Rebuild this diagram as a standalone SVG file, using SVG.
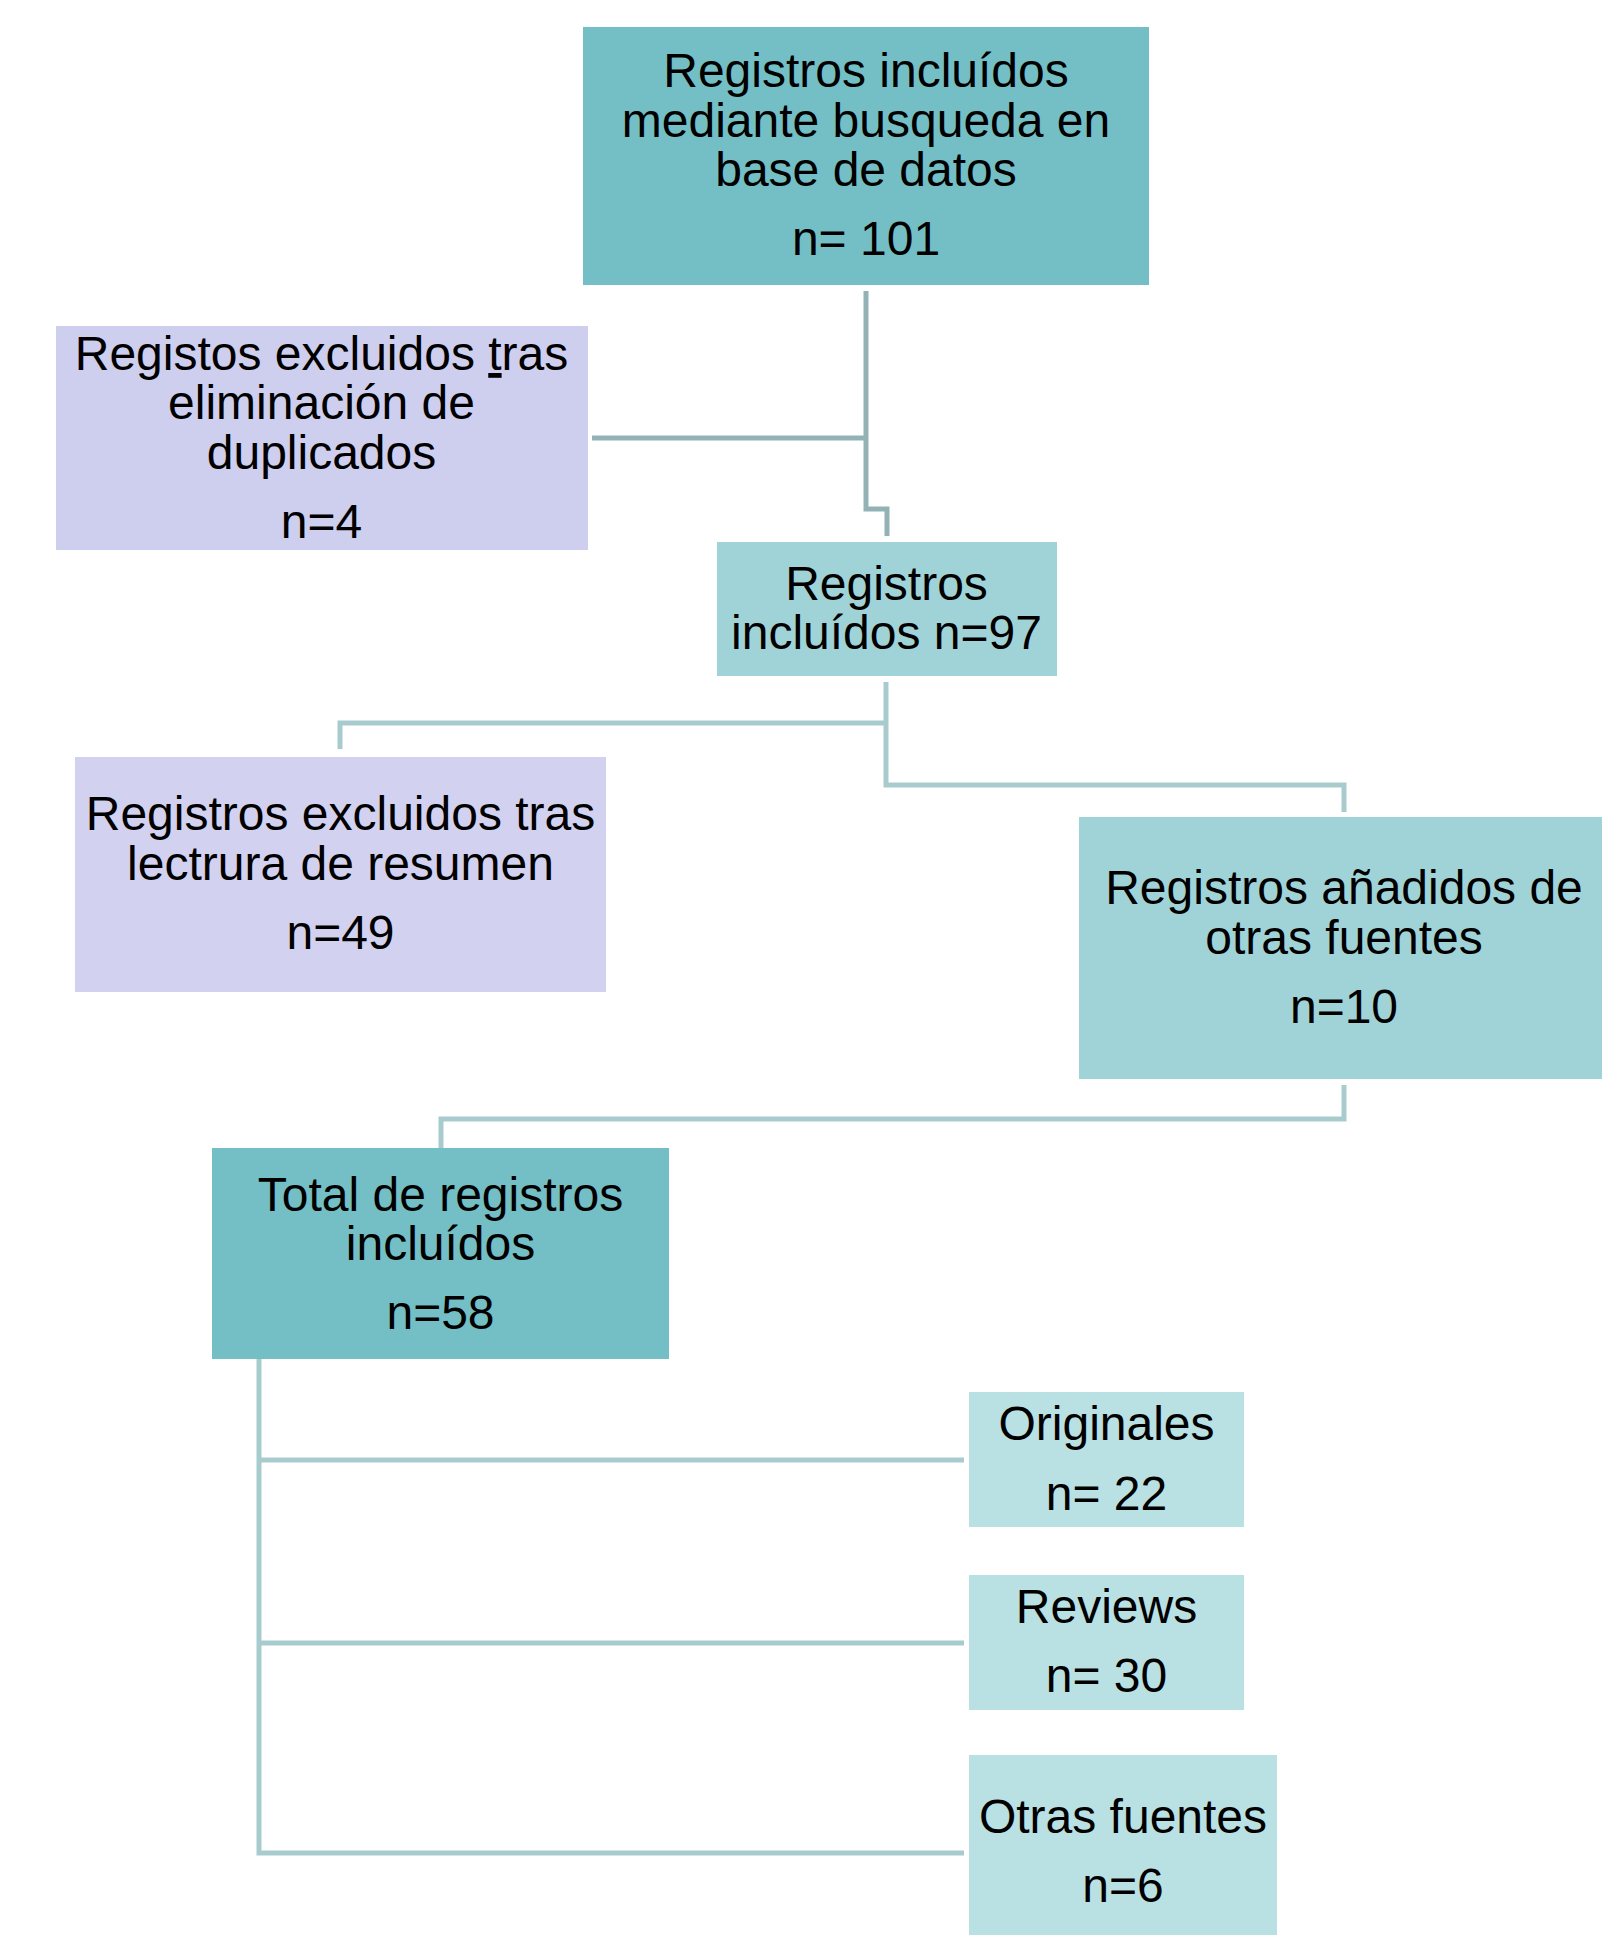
<svg xmlns="http://www.w3.org/2000/svg" width="1602" height="1935" viewBox="0 0 1602 1935">
<style>
text{font-family:"Liberation Sans",Arial,sans-serif;font-size:48px;fill:#000;text-anchor:middle}
.c1{fill:#73BFC5}
.c2{fill:#A0D3D7}
.c3{fill:#B9E0E3}
.l1{fill:#CECEEE}
.l2{fill:#D2D2F0}
.k1{fill:none;stroke:#93B2B5;stroke-width:5}
.k2{fill:none;stroke:#A8CBCE;stroke-width:5}
</style>
<g id="connectors">
<polyline class="k1" points="866,291 866,509 887,509 887,536"/>
<line class="k1" x1="592" y1="438" x2="866" y2="438"/>
<polyline class="k2" points="886,682 886,785 1344,785 1344,812"/>
<polyline class="k2" points="886,723 340,723 340,749"/>
<polyline class="k2" points="1344,1085 1344,1119 441,1119 441,1148"/>
<polyline class="k2" points="259,1359 259,1853 964,1853"/>
<line class="k2" x1="259" y1="1460" x2="964" y2="1460"/>
<line class="k2" x1="259" y1="1643" x2="964" y2="1643"/>
</g>
<g id="n-top">
<rect class="c1" x="583" y="27" width="566" height="258"/>
<text x="866" y="87">Registros incluídos</text>
<text x="866" y="137">mediante busqueda en</text>
<text x="866" y="186">base de datos</text>
<text x="866" y="255">n= 101</text>
</g>
<g id="n-dup">
<rect class="l1" x="56" y="326" width="532" height="224"/>
<text x="321.5" y="370">Registos excluidos <tspan text-decoration="underline">t</tspan>ras</text>
<text x="321.5" y="419">eliminación de</text>
<text x="321.5" y="469">duplicados</text>
<text x="321.5" y="538">n=4</text>
</g>
<g id="n-97">
<rect class="c2" x="717" y="542" width="340" height="134"/>
<text x="886.5" y="600">Registros</text>
<text x="886.5" y="649">incluídos n=97</text>
</g>
<g id="n-res">
<rect class="l2" x="75" y="757" width="531" height="235"/>
<text x="340.5" y="830">Registros excluidos tras</text>
<text x="340.5" y="880">lectrura de resumen</text>
<text x="340.5" y="949">n=49</text>
</g>
<g id="n-add">
<rect class="c2" x="1079" y="817" width="530" height="262"/>
<text x="1344" y="904">Registros añadidos de</text>
<text x="1344" y="954">otras fuentes</text>
<text x="1344" y="1023">n=10</text>
</g>
<g id="n-total">
<rect class="c1" x="212" y="1148" width="457" height="211"/>
<text x="440.5" y="1211">Total de registros</text>
<text x="440.5" y="1260">incluídos</text>
<text x="440.5" y="1329">n=58</text>
</g>
<g id="n-orig">
<rect class="c3" x="969" y="1392" width="275" height="135"/>
<text x="1106.5" y="1440">Originales</text>
<text x="1106.5" y="1510">n= 22</text>
</g>
<g id="n-rev">
<rect class="c3" x="969" y="1575" width="275" height="135"/>
<text x="1106.5" y="1623">Reviews</text>
<text x="1106.5" y="1692">n= 30</text>
</g>
<g id="n-otras">
<rect class="c3" x="969" y="1755" width="308" height="185"/>
<text x="1123" y="1833">Otras fuentes</text>
<text x="1123" y="1902">n=6</text>
</g>
</svg>
